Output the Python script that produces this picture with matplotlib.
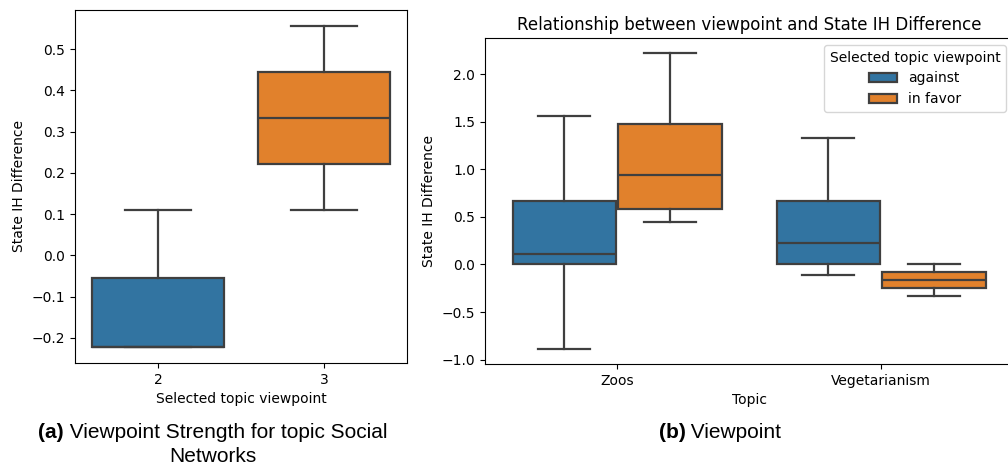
import matplotlib
matplotlib.use("Agg")
import matplotlib.pyplot as plt
from matplotlib.patches import Patch

# ---- data: box statistics (whisker low, Q1, median, Q3, whisker high) ----
viewpoints = ["2", "3"]
strength_whislo = [-0.222, 0.111]
strength_q1 = [-0.222, 0.222]
strength_med = [-0.222, 0.333]
strength_q3 = [-0.056, 0.444]
strength_whishi = [0.111, 0.556]

topics = ["Zoos", "Vegetarianism"]
stances = ["against", "in favor"]
against_whislo = [-0.889, -0.111]
against_q1 = [0.0, 0.0]
against_med = [0.111, 0.222]
against_q3 = [0.667, 0.667]
against_whishi = [1.556, 1.333]
favor_whislo = [0.444, -0.333]
favor_q1 = [0.583, -0.25]
favor_med = [0.944, -0.167]
favor_q3 = [1.472, -0.083]
favor_whishi = [2.222, 0.0]

BLUE = "#3274a1"
ORANGE = "#e1812c"
EDGE = "#3f3f3f"
LW = 1.6


def stats(lo, q1, med, q3, hi):
    return [dict(whislo=a, q1=b, med=c, q3=d, whishi=e, fliers=[])
            for a, b, c, d, e in zip(lo, q1, med, q3, hi)]


def draw(ax, st, pos, width, colors):
    bp = ax.bxp(st, positions=pos, widths=width, patch_artist=True,
                showfliers=False, manage_ticks=False,
                boxprops=dict(edgecolor=EDGE, linewidth=LW),
                whiskerprops=dict(color=EDGE, linewidth=LW),
                capprops=dict(color=EDGE, linewidth=LW),
                medianprops=dict(color=EDGE, linewidth=LW))
    for patch, c in zip(bp["boxes"], colors):
        patch.set_facecolor(c)
    return bp


fig = plt.figure(figsize=(10.08, 4.67), dpi=100)

# (a) viewpoint strength
ax1 = fig.add_axes([0.0744, 0.2227, 0.3294, 0.7559])
draw(ax1, stats(strength_whislo, strength_q1, strength_med, strength_q3, strength_whishi),
     [0, 1], 0.8, [BLUE, ORANGE])
ax1.set_xlim(-0.5, 1.5)
ax1.set_xticks([0, 1])
ax1.set_xticklabels(viewpoints)
ax1.set_ylim(-0.261, 0.595)
ax1.set_yticks([-0.2, -0.1, 0.0, 0.1, 0.2, 0.3, 0.4, 0.5])
ax1.set_xlabel("Selected topic viewpoint")
ax1.set_ylabel("State IH Difference")

# (b) viewpoint by topic
ax2 = fig.add_axes([0.4812, 0.2206, 0.5238, 0.698])
w = 0.392
draw(ax2, stats(against_whislo, against_q1, against_med, against_q3, against_whishi),
     [-0.2, 0.8], w, [BLUE, BLUE])
draw(ax2, stats(favor_whislo, favor_q1, favor_med, favor_q3, favor_whishi),
     [0.2, 1.2], w, [ORANGE, ORANGE])
ax2.set_xlim(-0.5, 1.5)
ax2.set_xticks([0, 1])
ax2.set_xticklabels(topics)
ax2.set_ylim(-1.045, 2.378)
ax2.set_yticks([-1.0, -0.5, 0.0, 0.5, 1.0, 1.5, 2.0])
ax2.set_xlabel("Topic")
ax2.set_ylabel("State IH Difference")
ax2.set_title("Relationship between viewpoint and State IH Difference")
handles = [Patch(facecolor=BLUE, edgecolor=EDGE, linewidth=LW, label=stances[0]),
           Patch(facecolor=ORANGE, edgecolor=EDGE, linewidth=LW, label=stances[1])]
ax2.legend(handles=handles, title="Selected topic viewpoint", loc="upper right")

# captions with bold panel letters
cap_font = ["Liberation Sans Narrow", "Liberation Sans", "DejaVu Sans"]
fig.canvas.draw()
renderer = fig.canvas.get_renderer()


def caption(letter, rest, xc, y, size=15):
    t1 = fig.text(0, y, letter, fontsize=size, fontweight="bold",
                  family=cap_font, va="center", ha="left")
    t2 = fig.text(0, y, rest, fontsize=size, family=cap_font,
                  va="center", ha="left")
    w1 = t1.get_window_extent(renderer).width
    w2 = t2.get_window_extent(renderer).width
    W = fig.bbox.width
    x0 = xc * W - (w1 + w2) / 2
    t1.set_x(x0 / W)
    t2.set_x((x0 + w1) / W)


caption("(a)", " Viewpoint Strength for topic Social", 212.5 / 1008, 1 - 433 / 467)
fig.text(213 / 1008, 1 - 457 / 467, "Networks", fontsize=15, family=cap_font,
         va="center", ha="center")
caption("(b)", " Viewpoint", 720 / 1008, 1 - 433 / 467)

fig.savefig("out.png", dpi=100)
